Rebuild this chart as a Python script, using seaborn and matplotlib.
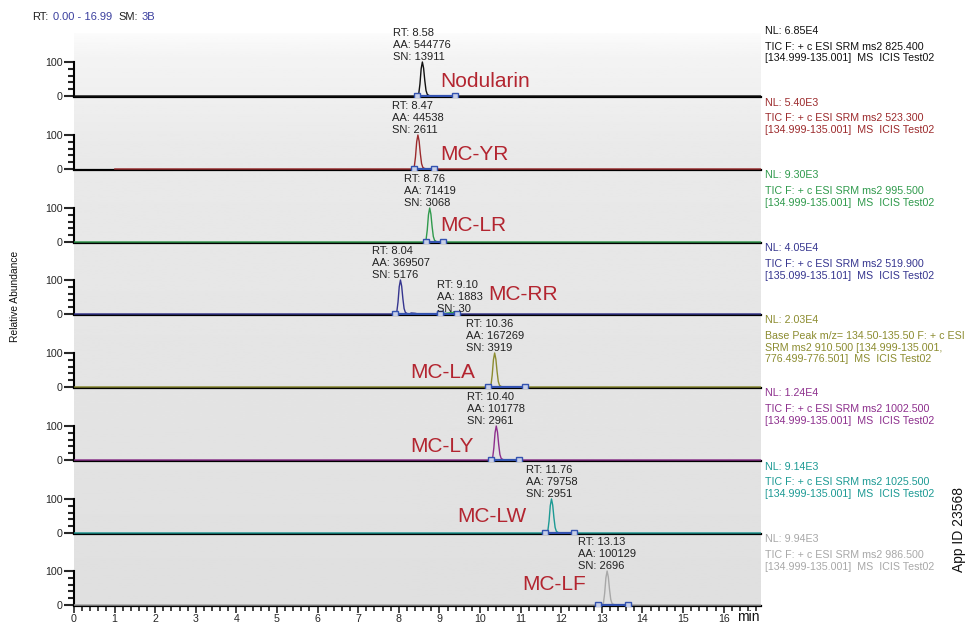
import numpy as np
import matplotlib
matplotlib.use("Agg")
import matplotlib.pyplot as plt
from matplotlib.ticker import MultipleLocator, FixedLocator
import seaborn as sns
import pandas as pd

# ---- data ----
compounds = ["Nodularin", "MC-YR", "MC-LR", "MC-RR", "MC-LA", "MC-LY", "MC-LW", "MC-LF"]
trace_colors = ["#111111", "#9c2a2c", "#2f9a4c", "#35358f",
                "#8c8c30", "#8d2f8d", "#1c9a94", "#a8a8a8"]
rt_apex = [8.58, 8.47, 8.76, 8.04, 10.36, 10.40, 11.76, 13.13]
peak_area = [544776, 44538, 71419, 369507, 167269, 101778, 79758, 100129]
peak_sn = [13911, 2611, 3068, 5176, 3919, 2961, 2951, 2696]
trace_start = [0.0, 1.0, 0.0, 0.0, 0.0, 0.0, 0.0, 0.0]
trace_end = 16.99
peak_start = [8.45, 8.37, 8.66, 7.91, 10.20, 10.26, 11.60, 12.90]
peak_end = [9.38, 8.87, 9.08, 9.01, 11.11, 10.96, 12.32, 13.64]
norm_level = ["6.85E4", "5.40E3", "9.30E3", "4.05E4", "2.03E4", "1.24E4", "9.14E3", "9.94E3"]
scan_filter = [
    "TIC F: + c ESI SRM ms2 825.400\n[134.999-135.001]  MS  ICIS Test02",
    "TIC F: + c ESI SRM ms2 523.300\n[134.999-135.001]  MS  ICIS Test02",
    "TIC F: + c ESI SRM ms2 995.500\n[134.999-135.001]  MS  ICIS Test02",
    "TIC F: + c ESI SRM ms2 519.900\n[135.099-135.101]  MS  ICIS Test02",
    "Base Peak m/z= 134.50-135.50 F: + c ESI\nSRM ms2 910.500 [134.999-135.001,\n776.499-776.501]  MS  ICIS Test02",
    "TIC F: + c ESI SRM ms2 1002.500\n[134.999-135.001]  MS  ICIS Test02",
    "TIC F: + c ESI SRM ms2 1025.500\n[134.999-135.001]  MS  ICIS Test02",
    "TIC F: + c ESI SRM ms2 986.500\n[134.999-135.001]  MS  ICIS Test02",
]

# peak shape (offset from apex in min, relative abundance)
profile_offset = [-0.13, -0.09, -0.06, -0.03, 0.0, 0.03, 0.06, 0.09, 0.12, 0.16, 0.24]
profile_height = [0, 6, 35, 80, 100, 82, 45, 16, 5, 1.5, 0]

# MC-RR: tail after main peak and the minor peak at 9.10
rr_tail_t = [8.30, 8.40, 8.48]
rr_tail_y = [3, 2, 0]
minor_rt, minor_aa, minor_sn = 9.10, 1883, 30
minor_start, minor_end = 9.01, 9.43
minor_t = [9.01, 9.15, 9.30, 9.45, 9.48]
minor_y = [0, 2, 4, 6, 0]

# ---- layout (pixels of the 969x623 reference) ----
W, H = 969, 623
X0, X1 = 74, 761
baselines = [96, 169, 242, 314, 387, 460, 533, 605]
tops = [33] + baselines[:-1]
PX_PER_UNIT = 0.34
YLOW = -3

sns.set_style("white")
plt.rcParams["font.family"] = ["Liberation Sans", "DejaVu Sans"]
fig = plt.figure(figsize=(W / 100, H / 100), dpi=100)


def fx(px):
    return px / W


def fy(py):
    return 1 - py / H


# gradient backdrop behind all panels
bg = fig.add_axes([fx(X0), fy(605), fx(X1 - X0), (605 - 33) / H])
rows = np.linspace(0, 1, 300)
shade = np.interp(rows, [0, 0.04, 0.2, 1], [0.985, 0.955, 0.915, 0.875])
bg.imshow(shade[:, None], aspect="auto", cmap="gray", vmin=0, vmax=1,
          extent=[0, 1, 0, 1], origin="upper")
bg.set_axis_off()

mark_blue = "#3352b0"
label_red = "#b32530"
label_pos = [(9.01, 43), (9.01, 42), (9.01, 48), (10.20, 57),
             (8.28, 44), (8.28, 40), (9.43, 48), (11.03, 60)]

for i, name in enumerate(compounds):
    bottom_px = baselines[i] - YLOW * PX_PER_UNIT
    top_px = tops[i]
    ytop = (bottom_px - top_px) / PX_PER_UNIT + YLOW
    ax = fig.add_axes([fx(X0), fy(bottom_px), fx(X1 - X0), (bottom_px - top_px) / H])
    ax.set_facecolor("none")

    rt = rt_apex[i]
    t = [trace_start[i]] + [rt + o for o in profile_offset] + [trace_end]
    y = [0] + profile_height + [0]
    if name == "MC-RR":
        t = t[:-1] + rr_tail_t + [trace_end]
        y = y[:-1] + rr_tail_y + [0]
    df = pd.DataFrame({"time": t, "abundance": y}).sort_values("time")
    sns.lineplot(data=df, x="time", y="abundance", ax=ax, color=trace_colors[i],
                 lw=1.0, sort=False, estimator=None, zorder=3)

    # integration baseline with hollow square markers
    ax.plot([peak_start[i], peak_end[i]], [0, 0], color=mark_blue, lw=1.6,
            marker="s", ms=4, mfc="#c8d0e8", mec=mark_blue, mew=1.0, zorder=4)

    ax.text(rt, 101, f"RT: {rt:.2f}\nAA: {peak_area[i]}\nSN: {peak_sn[i]}",
            ha="center", va="bottom", multialignment="left", fontsize=8,
            linespacing=1.25, color="#222222", zorder=5)

    if name == "MC-RR":
        sns.lineplot(x=minor_t, y=minor_y, ax=ax, color="#2fae3c", lw=1.0,
                     sort=False, estimator=None, zorder=3)
        ax.plot([minor_start, minor_end], [0, 0], color=mark_blue, lw=1.6,
                marker="s", ms=4, mfc="#c8d0e8", mec=mark_blue, mew=1.0, zorder=4)
        ax.text(minor_rt - 0.15, 1, f"RT: {minor_rt:.2f}\nAA: {minor_aa}\nSN: {minor_sn}",
                ha="left", va="bottom", fontsize=8, linespacing=1.25,
                color="#222222", zorder=5)

    lx, ly = label_pos[i]
    ax.text(lx, ly, name, ha="left", va="center", fontsize=15, color=label_red, zorder=5)

    ax.set_xlim(0, 16.92)
    ax.set_ylim(YLOW, ytop)
    ax.set_xlabel("")
    ax.set_ylabel("")
    for s in ["top", "right"]:
        ax.spines[s].set_visible(False)
    ax.spines["left"].set_bounds(0, 100)
    ax.spines["left"].set_linewidth(1.5)
    ax.spines["bottom"].set_linewidth(1.6)
    ax.spines["left"].set_color("black")
    ax.spines["bottom"].set_color("black")
    ax.set_yticks([0, 100])
    ax.set_yticklabels(["0", "100"])
    ax.yaxis.set_minor_locator(FixedLocator([20, 40, 60, 80]))
    ax.tick_params(axis="y", which="major", length=7, width=1.5, pad=1,
                   labelsize=7.7, left=True, direction="out")
    ax.tick_params(axis="y", which="minor", length=4.5, width=1.5, left=True)

    if i == len(compounds) - 1:
        ax.set_xticks(range(0, 17))
        ax.xaxis.set_minor_locator(MultipleLocator(0.2))
        ax.tick_params(axis="x", which="major", length=5, width=1.2, pad=0.5,
                       labelsize=7.7, bottom=True, direction="out")
        ax.tick_params(axis="x", which="minor", length=3.5, width=1.2, bottom=True)
    else:
        ax.set_xticks([])

    # scan header on the right
    hdr_top = tops[i] + 1.5 if i > 0 else 26
    fig.text(fx(765), fy(hdr_top), f"NL: {norm_level[i]}", ha="left", va="top",
             fontsize=7.7, color=trace_colors[i])
    fig.text(fx(765), fy(hdr_top + 15.5), scan_filter[i], ha="left", va="top",
             fontsize=7.7, color=trace_colors[i], linespacing=1.2)

fig.text(fx(32), fy(17), "RT:", ha="left", va="center", fontsize=8, color="#222222")
fig.text(fx(53), fy(17), "0.00 - 16.99", ha="left", va="center", fontsize=8, color="#3a3f9e")
fig.text(fx(118), fy(17), "SM:", ha="left", va="center", fontsize=8, color="#222222")
fig.text(fx(142), fy(17), "3B", ha="left", va="center", fontsize=8, color="#3a3f9e")
fig.text(fx(737), fy(617), "min", ha="left", va="center", fontsize=10, color="#111111")
fig.text(fx(15), fy(296), "Relative Abundance", rotation=90, ha="center", va="center",
         fontsize=7.4, color="#111111")
fig.text(fx(959), fy(530), "App ID 23568", rotation=90, ha="center", va="center",
         fontsize=10, color="#111111")

fig.savefig("out.png", dpi=100)
